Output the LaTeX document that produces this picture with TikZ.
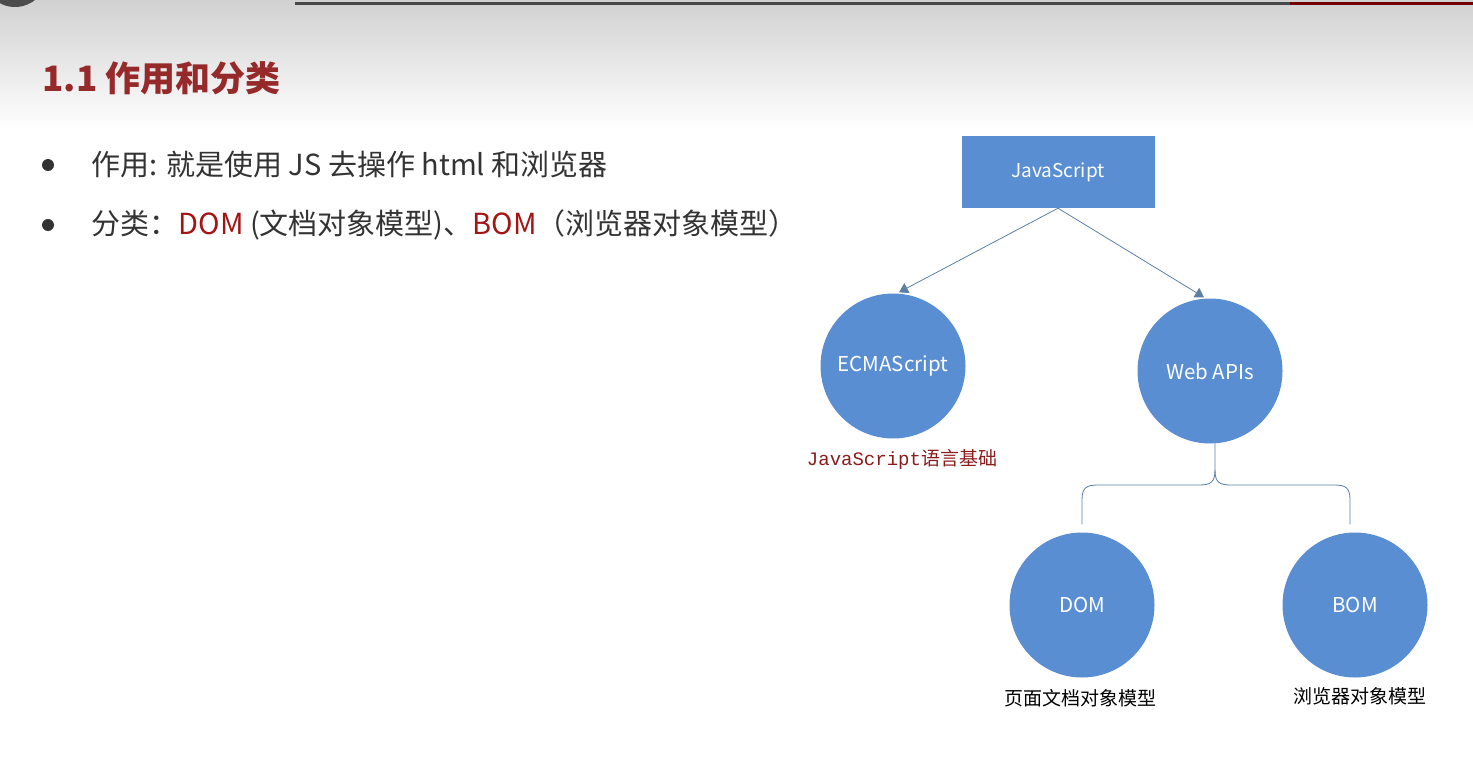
\documentclass[tikz,border=0pt]{standalone}
\usepackage{fontspec}
\setmainfont{Noto Sans CJK SC}
\newfontfamily\monofont{Liberation Mono}
\usepackage{xcolor}
\usetikzlibrary{arrows.meta}

\definecolor{titlered}{HTML}{962A2A}
\definecolor{termred}{HTML}{A31515}
\definecolor{nodeblue}{HTML}{5A8ED3}
\definecolor{linkblue}{HTML}{5C7FA6}
\definecolor{labelred}{HTML}{8B1C1C}
\definecolor{bodygray}{HTML}{333333}

\begin{document}
\begin{tikzpicture}[x=1pt,y=-1pt,>={Triangle[width=11pt,length=9pt]},
  bubble/.style={circle,fill=nodeblue,minimum size=145pt,inner sep=0pt,text=white,font=\fontsize{20.5}{22}\selectfont},
  root/.style={rectangle,fill=nodeblue,minimum width=193pt,minimum height=72pt,text=white,font=\fontsize{19}{21}\selectfont},
  link/.style={draw=linkblue,line width=0.8pt},
  caption/.style={font=\fontsize{19}{22}\selectfont,text=black},
  bullet/.style={circle,fill=bodygray,minimum size=12pt,inner sep=0pt},
  item/.style={anchor=west,font=\fontsize{29}{32}\selectfont,text=bodygray}]
\useasboundingbox (0,0) rectangle (1473,760);
\clip (0,0) rectangle (1473,760);
% slide background
\shade[top color=black!18,bottom color=white] (0,0) rectangle (1473,130);
\fill[black!70] (15,-25) circle (32);
\draw[line width=3pt,black!72] (295,4)--(1290,4);
\draw[line width=3pt,red!45!black] (1290,4)--(1473,4);
\node[anchor=west,text=titlered,font=\fontsize{35}{38}\selectfont\bfseries] (title) at (39,78) {1.1 作用和分类};
% bullets
\node[bullet] (dot1) at (48,165) {};
\node[bullet] (dot2) at (48,225) {};
\node[item] (use) at (88,165) {作用: 就是使用 JS 去操作 html 和浏览器};
\node[item] (kind) at (88,225) {分类：\textcolor{termred}{DOM} (文档对象模型)、\textcolor{termred}{BOM}（浏览器对象模型）};
% tree
\node[root] (js) at (1058,172) {JavaScript};
\node[bubble] (ecma) at (893,366) {ECMAScript};
\node[bubble] (web) at (1210,371) {Web APIs};
\node[bubble] (dom) at (1082,605) {DOM};
\node[bubble] (bom) at (1355,605) {BOM};
\draw[link,->](js.south)--([xshift=6pt,yshift=1pt]ecma.north);
\draw[link,->](js.south)--([xshift=-6pt,yshift=1pt]web.north);
\draw[link]([xshift=5pt]web.south)--(1215,470)
  ..controls(1215,482)and(1211,485)..(1199,485)--(1098,485)
  ..controls(1086,485)and(1082,488)..(1082,500)--([yshift=8pt]dom.north);
\draw[link](1215,470)
  ..controls(1215,482)and(1219,485)..(1231,485)--(1334,485)
  ..controls(1346,485)and(1350,488)..(1350,500)--([xshift=-5pt,yshift=8pt]bom.north);
\node[caption,text=labelred] (ecmanote) at (902,459) {{\monofont JavaScript}语言基础};
\node[caption] (domnote) at (1080,698) {页面文档对象模型};
\node[caption] (bomnote) at (1360,696) {浏览器对象模型};
\end{tikzpicture}
\end{document}
